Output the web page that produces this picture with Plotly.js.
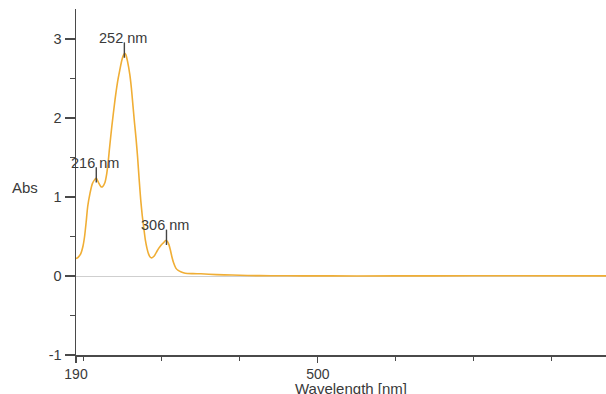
<!DOCTYPE html>
<html>
<head>
<meta charset="utf-8">
<script src="https://cdn.plot.ly/plotly-3.0.1.min.js"></script>
<style>html,body{margin:0;padding:0;background:#fff;}#chart{width:606px;height:394px;}</style>
</head>
<body>
<div id="chart"></div>
<script>
// Spectrum data (wavelength in nm, absorbance)
const wavelength = [190, 193, 196, 199, 201, 203, 205, 208, 211, 214, 216, 219, 222, 224, 227, 229, 231, 233, 236, 240, 243, 246, 249, 251, 252.5, 254, 256, 259, 261, 263, 265, 267, 269, 271, 273, 275, 277, 279, 281, 283, 285, 287, 290, 293, 296, 299, 302, 305, 307, 309, 311, 313, 315, 318, 321, 325, 330, 340, 350, 370, 390, 410, 440, 480, 550, 650, 750, 870];
const absorbance = [0.22, 0.24, 0.28, 0.38, 0.50, 0.68, 0.88, 1.05, 1.17, 1.22, 1.24, 1.18, 1.13, 1.13, 1.18, 1.27, 1.42, 1.62, 1.90, 2.23, 2.44, 2.60, 2.74, 2.80, 2.82, 2.80, 2.72, 2.55, 2.38, 2.16, 1.94, 1.74, 1.50, 1.22, 0.96, 0.76, 0.60, 0.45, 0.35, 0.28, 0.24, 0.23, 0.25, 0.30, 0.35, 0.39, 0.42, 0.45, 0.44, 0.40, 0.33, 0.24, 0.17, 0.10, 0.07, 0.05, 0.035, 0.03, 0.028, 0.018, 0.012, 0.006, 0.003, 0.002, 0.001, 0.002, 0.003, 0.002];

// Peak labels
const peakWavelengths = [216, 252, 306];
const peakAbs = [1.24, 2.82, 0.45];
const peakLabels = ["216 nm", "252 nm", "306 nm"];

const xTickVals = [190, 500];
const xTickText = ["190", "500"];
const yTickVals = [-1, 0, 1, 2, 3];
const yTickText = ["-1", "0", "1", "2", "3"];

const curveColor = "#F0AE35";
const axisColor = "#4a4a4a";
const textColor = "#3a3a3a";
const fontFam = "Liberation Sans, Arial, sans-serif";

const traces = [
  {
    x: wavelength,
    y: absorbance,
    type: "scatter",
    mode: "lines",
    line: {color: curveColor, width: 1.6, shape: "spline", smoothing: 0.6},
    hoverinfo: "skip"
  },
  {
    x: peakWavelengths,
    y: peakAbs.map(v => v + 0.04),
    type: "scatter",
    mode: "markers",
    marker: {symbol: "line-ns-open", size: 11, color: "#444", line: {color: "#444", width: 1.4}},
    hoverinfo: "skip"
  }
];

const annotations = peakWavelengths.map((w, i) => ({
  x: w, y: peakAbs[i], xref: "x", yref: "y",
  text: peakLabels[i], showarrow: false,
  yanchor: "bottom", yshift: 5, xshift: -1,
  font: {family: fontFam, size: 14.5, color: textColor}
}));

annotations.push({
  x: -0.125, y: 0.483, xref: "paper", yref: "paper", xanchor: "left", yanchor: "middle",
  text: "Abs", showarrow: false,
  font: {family: fontFam, size: 15, color: textColor}
});

annotations.push({
  x: 0.519, y: -0.097, xref: "paper", yref: "paper", xanchor: "center", yanchor: "middle",
  text: "Wavelength [nm]", showarrow: false,
  font: {family: fontFam, size: 15, color: textColor}
});

const layout = {
  width: 606, height: 394,
  margin: {l: 76, r: 0, t: 9, b: 39},
  paper_bgcolor: "#ffffff",
  plot_bgcolor: "#ffffff",
  showlegend: false,
  font: {family: fontFam, size: 14, color: textColor},
  xaxis: {
    range: [190, 869.5],
    tickmode: "array", tickvals: xTickVals, ticktext: xTickText,
    ticks: "outside", ticklen: 6, tickwidth: 1.3, tickcolor: axisColor,
    minor: {tickmode: "linear", tick0: 0, dtick: 100, ticks: "outside", ticklen: 4, tickwidth: 1.3, tickcolor: axisColor, showgrid: false},
    showline: true, linecolor: axisColor, linewidth: 1.5,
    showgrid: false, zeroline: false,
    tickfont: {size: 14, color: textColor},
    title: {text: ""}
  },
  yaxis: {
    range: [-1, 3.38],
    tickmode: "array", tickvals: yTickVals, ticktext: yTickText,
    ticks: "outside", ticklen: 10, tickwidth: 1.3, tickcolor: axisColor,
    minor: {tickmode: "linear", tick0: -0.5, dtick: 1, ticks: "outside", ticklen: 5, tickwidth: 1.3, tickcolor: axisColor, showgrid: false},
    showline: true, linecolor: axisColor, linewidth: 1.5,
    showgrid: false,
    zeroline: true, zerolinecolor: "#cfcfcf", zerolinewidth: 1,
    tickfont: {size: 14.5, color: textColor},
    title: {text: ""}
  },
  annotations: annotations
};

Plotly.newPlot("chart", traces, layout, {staticPlot: true, displayModeBar: false});
</script>
</body>
</html>
